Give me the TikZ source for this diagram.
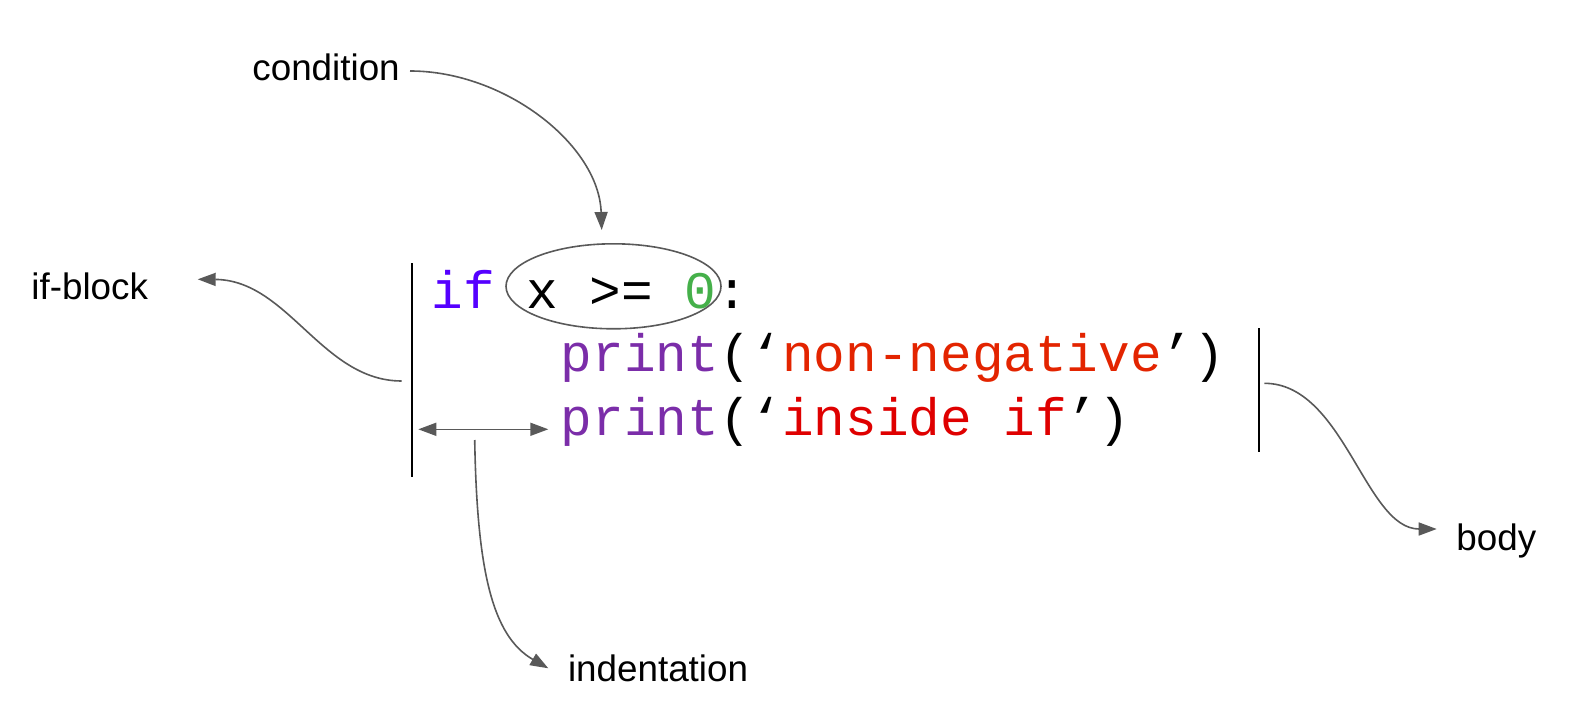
\documentclass[tikz,border=0pt]{standalone}
\usepackage{fontspec}
\setmainfont{Liberation Sans}
\newfontfamily\codefont{Liberation Mono}
\usetikzlibrary{arrows.meta,shapes.geometric}
\definecolor{arrowgray}{HTML}{595959}
\definecolor{kwcol}{HTML}{5500FF}
\definecolor{fncol}{HTML}{7B2DA9}
\definecolor{strcolA}{HTML}{E32400}
\definecolor{strcolB}{HTML}{DF0000}
\definecolor{numcol}{HTML}{45B04A}
\tikzset{
  label/.style={inner sep=0pt, anchor=base west, font=\fontsize{18.4}{22}\selectfont},
  codeline/.style={inner sep=0pt, anchor=base west, font=\codefont\fontsize{26.35}{30}\selectfont},
  pointer/.style={draw=arrowgray, line width=0.8pt, -{Triangle[length=9pt,width=6.5pt]}},
  bar/.style={draw=black, line width=1.1pt},
}
\begin{document}
\begin{tikzpicture}[x=0.5pt,y=-0.5pt]
\useasboundingbox (0,0) rectangle (1582,727);
% labels
\node[label] (condition) at (252,80.7) {condition};
\node[label] (ifblock) at (31,299.3) {if-block};
\node[label] (indentation) at (567.6,681) {indentation};
\node[label] (body) at (1456,550) {body};
% code
\node[codeline] (line1) at (431,308.3) {\textcolor{kwcol}{if} x >= \textcolor{numcol}{0}:};
\node[codeline] (line2) at (434,371.7) {\hphantom{xxxx}\textcolor{fncol}{print}(‘\textcolor{strcolA}{non-negative}’)};
\node[codeline] (line3) at (434,435) {\hphantom{xxxx}\textcolor{fncol}{print}(‘\textcolor{strcolB}{inside if}’)};
% condition ellipse
\node[ellipse, draw=arrowgray, line width=0.8pt, minimum width=107.5pt, minimum height=42.5pt, inner sep=0pt] (cond) at (613.5,286.3) {};
% bars
\coordinate (lbtop) at (411.7,263);
\coordinate (lbbot) at (411.7,476.7);
\coordinate (rbtop) at (1259,328.3);
\coordinate (rbbot) at (1259,452.3);
\draw[bar] (lbtop) -- (lbbot);
\draw[bar] (rbtop) -- (rbbot);
% anchor points
\coordinate (condstart) at (410,71);
\coordinate (condtip) at (601.7,230);
\coordinate (ifstart) at (401.7,381);
\coordinate (iftip) at (197.7,279.3);
\coordinate (indL) at (418.3,429.3);
\coordinate (indR) at (548.3,429.3);
\coordinate (indstart) at (474.7,440);
\coordinate (indtip) at (548.3,668.3);
\coordinate (bodystart) at (1264.3,383.3);
\coordinate (bodytip) at (1436.7,529);
% connectors
\draw[pointer] (condstart) .. controls (505,71) and (599,145) .. (condtip);
\draw[pointer] (ifstart) .. controls (322,381) and (288,280) .. (iftip);
\draw[draw=arrowgray, line width=0.8pt, {Triangle[length=9pt,width=6.5pt]}-{Triangle[length=9pt,width=6.5pt]}] (indL) -- (indR);
\draw[pointer] (indstart) .. controls (477,570) and (492,636) .. (indtip);
\draw[pointer] (bodystart) .. controls (1344,383.3) and (1365,529) .. (bodytip);
\end{tikzpicture}
\end{document}
